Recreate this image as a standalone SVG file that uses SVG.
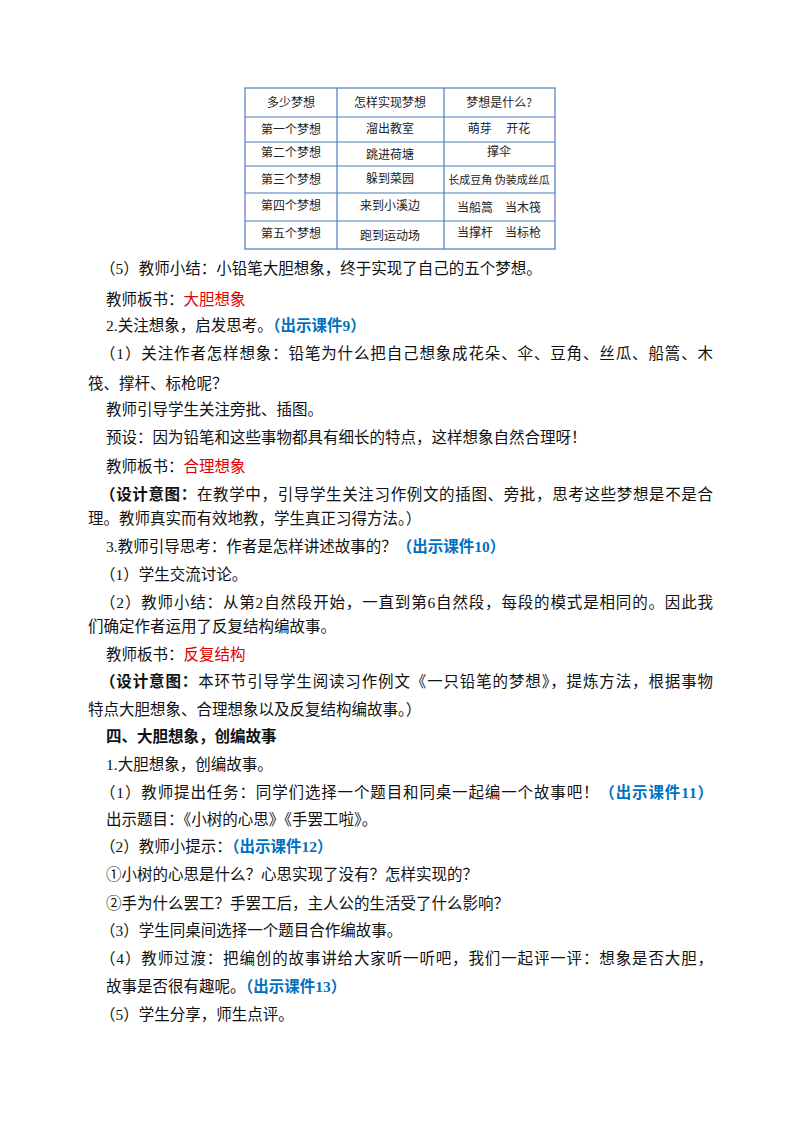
<svg xmlns="http://www.w3.org/2000/svg" width="800" height="1132" viewBox="0 0 800 1132">
<style>
text{font-family:"Liberation Serif","Noto Sans CJK SC",serif;font-size:15.5px;fill:#111}
.t{font-size:12px;font-family:"Noto Sans CJK SC",sans-serif;fill:#222;text-anchor:middle}
.r{fill:#e00000}
.b{fill:#0070c0;font-weight:bold}
.k{font-weight:bold}
</style>
<rect width="800" height="1132" fill="#fff"/>
<g id="table" stroke="#4a7ec0" stroke-width="1.2" fill="none">
<rect x="245" y="88" width="310" height="161"/>
<line x1="337" y1="88" x2="337" y2="249"/><line x1="444" y1="88" x2="444" y2="249"/>
<line x1="245" y1="117" x2="555" y2="117"/><line x1="245" y1="142" x2="555" y2="142"/>
<line x1="245" y1="166" x2="555" y2="166"/><line x1="245" y1="193" x2="555" y2="193"/>
<line x1="245" y1="221" x2="555" y2="221"/>
</g>
<g id="table-text">
<text class="t" x="291" y="107">多少梦想</text><text class="t" x="390" y="107">怎样实现梦想</text><text class="t" x="499" y="107">梦想是什么?</text>
<text class="t" x="291" y="134">第一个梦想</text><text class="t" x="390" y="133">溜出教室</text><text class="t" x="499" y="133">萌芽　 开花</text>
<text class="t" x="291" y="157">第二个梦想</text><text class="t" x="390" y="159">跳进荷塘</text><text class="t" x="499" y="156">撑伞</text>
<text class="t" x="291" y="184">第三个梦想</text><text class="t" x="390" y="183">躲到菜园</text><text class="t" x="499" y="184" style="font-size:11px">长成豆角 伪装成丝瓜</text>
<text class="t" x="291" y="210">第四个梦想</text><text class="t" x="390" y="210">来到小溪边</text><text class="t" x="499" y="212">当船篙　当木筏</text>
<text class="t" x="291" y="238">第五个梦想</text><text class="t" x="390" y="240">跑到运动场</text><text class="t" x="499" y="237">当撑杆　当标枪</text>
</g>
<g id="body">
<text x="100" y="274">（5）教师小结：小铅笔大胆想象，终于实现了自己的五个梦想。</text>
<text x="106" y="305">教师板书：<tspan class="r">大胆想象</tspan></text>
<text x="106" y="331">2.关注想象，启发思考。<tspan class="b">（出示课件9）</tspan></text>
<text x="100" y="359" textLength="613" lengthAdjust="spacing">（1）关注作者怎样想象：铅笔为什么把自己想象成花朵、伞、豆角、丝瓜、船篙、木</text>
<text x="88" y="389">筏、撑杆、标枪呢？</text>
<text x="106" y="415">教师引导学生关注旁批、插图。</text>
<text x="106" y="443">预设：因为铅笔和这些事物都具有细长的特点，这样想象自然合理呀！</text>
<text x="106" y="472">教师板书：<tspan class="r">合理想象</tspan></text>
<text x="100" y="500" textLength="613" lengthAdjust="spacing"><tspan class="k">（设计意图：</tspan>在教学中，引导学生关注习作例文的插图、旁批，思考这些梦想是不是合</text>
<text x="88" y="524">理。教师真实而有效地教，学生真正习得方法。）</text>
<text x="106" y="552">3.教师引导思考：作者是怎样讲述故事的？<tspan class="b">（出示课件10）</tspan></text>
<text x="100" y="580">（1）学生交流讨论。</text>
<text x="100" y="608" textLength="613" lengthAdjust="spacing">（2）教师小结：从第2自然段开始，一直到第6自然段，每段的模式是相同的。因此我</text>
<text x="88" y="632">们确定作者运用了反复结构编故事。</text>
<text x="106" y="660">教师板书：<tspan class="r">反复结构</tspan></text>
<text x="100" y="687" textLength="613" lengthAdjust="spacing"><tspan class="k">（设计意图：</tspan>本环节引导学生阅读习作例文《一只铅笔的梦想》，提炼方法，根据事物</text>
<text x="88" y="715">特点大胆想象、合理想象以及反复结构编故事。）</text>
<text x="106" y="742" class="k">四、大胆想象，创编故事</text>
<text x="106" y="770">1.大胆想象，创编故事。</text>
<text x="100" y="798" textLength="613" lengthAdjust="spacing">（1）教师提出任务：同学们选择一个题目和同桌一起编一个故事吧！<tspan class="b">（出示课件11）</tspan></text>
<text x="106" y="825">出示题目：《小树的心思》《手罢工啦》。</text>
<text x="100" y="852">（2）教师小提示：<tspan class="b">（出示课件12）</tspan></text>
<text x="106" y="880">①小树的心思是什么？心思实现了没有？怎样实现的？</text>
<text x="106" y="909">②手为什么罢工？手罢工后，主人公的生活受了什么影响？</text>
<text x="100" y="936">（3）学生同桌间选择一个题目合作编故事。</text>
<text x="100" y="964" textLength="613" lengthAdjust="spacing">（4）教师过渡：把编创的故事讲给大家听一听吧，我们一起评一评：想象是否大胆，</text>
<text x="106" y="992">故事是否很有趣呢。<tspan class="b">（出示课件13）</tspan></text>
<text x="100" y="1020">（5）学生分享，师生点评。</text>
</g>
</svg>
